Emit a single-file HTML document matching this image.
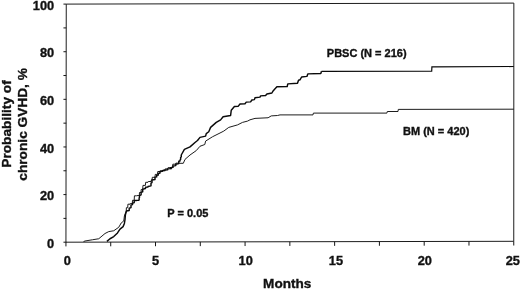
<!DOCTYPE html>
<html><head><meta charset="utf-8"><title>Chronic GVHD</title>
<style>
html,body{margin:0;padding:0;background:#fff;}
svg{display:block;}
#g{filter:blur(0.35px);}
text{font-family:"Liberation Sans",sans-serif;font-weight:bold;fill:#111;stroke:#111;stroke-width:0.35px;}
</style></head>
<body>
<svg width="520" height="290" viewBox="0 0 520 290">
<rect width="520" height="290" fill="#fff"/>
<g id="g">
<polyline points="66.25,4.1 513.85,3.1 513.75,241.3 65.95,242.2 66.25,4.1" fill="none" stroke="#1c1c1c" stroke-width="1.0"/>
<line x1="63.45" y1="242.20" x2="66.25" y2="242.20" stroke="#151515" stroke-width="1"/>
<line x1="63.45" y1="218.39" x2="66.25" y2="218.39" stroke="#151515" stroke-width="1"/>
<line x1="63.45" y1="194.58" x2="66.25" y2="194.58" stroke="#151515" stroke-width="1"/>
<line x1="63.45" y1="170.77" x2="66.25" y2="170.77" stroke="#151515" stroke-width="1"/>
<line x1="63.45" y1="146.96" x2="66.25" y2="146.96" stroke="#151515" stroke-width="1"/>
<line x1="63.45" y1="123.15" x2="66.25" y2="123.15" stroke="#151515" stroke-width="1"/>
<line x1="63.45" y1="99.34" x2="66.25" y2="99.34" stroke="#151515" stroke-width="1"/>
<line x1="63.45" y1="75.53" x2="66.25" y2="75.53" stroke="#151515" stroke-width="1"/>
<line x1="63.45" y1="51.72" x2="66.25" y2="51.72" stroke="#151515" stroke-width="1"/>
<line x1="63.45" y1="27.91" x2="66.25" y2="27.91" stroke="#151515" stroke-width="1"/>
<line x1="63.45" y1="4.10" x2="66.25" y2="4.10" stroke="#151515" stroke-width="1"/>
<line x1="65.95" y1="242.20" x2="65.95" y2="246.40" stroke="#151515" stroke-width="1"/>
<line x1="110.73" y1="242.11" x2="110.73" y2="246.31" stroke="#151515" stroke-width="1"/>
<line x1="155.51" y1="242.02" x2="155.51" y2="246.22" stroke="#151515" stroke-width="1"/>
<line x1="200.29" y1="241.93" x2="200.29" y2="246.13" stroke="#151515" stroke-width="1"/>
<line x1="245.07" y1="241.84" x2="245.07" y2="246.04" stroke="#151515" stroke-width="1"/>
<line x1="289.85" y1="241.75" x2="289.85" y2="245.95" stroke="#151515" stroke-width="1"/>
<line x1="334.63" y1="241.66" x2="334.63" y2="245.86" stroke="#151515" stroke-width="1"/>
<line x1="379.41" y1="241.57" x2="379.41" y2="245.77" stroke="#151515" stroke-width="1"/>
<line x1="424.19" y1="241.48" x2="424.19" y2="245.68" stroke="#151515" stroke-width="1"/>
<line x1="468.97" y1="241.39" x2="468.97" y2="245.59" stroke="#151515" stroke-width="1"/>
<line x1="513.75" y1="241.30" x2="513.75" y2="245.50" stroke="#151515" stroke-width="1"/>
<text x="54.2" y="247.80" text-anchor="end" font-size="12.8">0</text>
<text x="54.2" y="200.18" text-anchor="end" font-size="12.8">20</text>
<text x="54.2" y="152.56" text-anchor="end" font-size="12.8">40</text>
<text x="54.2" y="104.94" text-anchor="end" font-size="12.8">60</text>
<text x="54.2" y="57.32" text-anchor="end" font-size="12.8">80</text>
<text x="54.2" y="9.70" text-anchor="end" font-size="12.8">100</text>
<text x="67.35" y="265.40" text-anchor="middle" font-size="12.8">0</text>
<text x="155.51" y="265.25" text-anchor="middle" font-size="12.8">5</text>
<text x="245.67" y="265.10" text-anchor="middle" font-size="12.8">10</text>
<text x="335.93" y="264.95" text-anchor="middle" font-size="12.8">15</text>
<text x="424.79" y="264.80" text-anchor="middle" font-size="12.8">20</text>
<text x="512.85" y="264.65" text-anchor="middle" font-size="12.8">25</text>
<text x="263.1" y="288.3" font-size="13.3" textLength="48.2" lengthAdjust="spacingAndGlyphs">Months</text>
<text transform="translate(10.7,124) rotate(-90)" text-anchor="middle" font-size="13.7">Probability of</text>
<text transform="translate(27.0,124.4) rotate(-90)" text-anchor="middle" font-size="13.7">chronic GVHD, %</text>
<text x="326.8" y="56.8" font-size="11">PBSC (N = 216)</text>
<text x="403" y="135.2" font-size="11">BM (N = 420)</text>
<text x="167.3" y="217.2" font-size="11">P = 0.05</text>
<polyline points="83.50,241.60 85.00,241.00 92.50,239.75 98.75,238.75 105.00,233.50 108.75,231.60 113.75,230.75 118.75,227.25 121.25,222.90 123.75,221.00 124.40,216.00 126.25,211.00 126.39,207.70 127.70,207.70 127.93,204.20 130.00,204.20 130.23,203.60 132.30,203.60 132.49,200.30 134.20,200.30 134.43,195.80 136.50,195.80 136.78,195.60 139.30,195.60 139.47,192.50 141.00,192.50 141.17,189.50 142.70,189.50 142.97,185.40 145.40,185.40 145.66,182.30 148.00,182.30 148.32,181.50 151.20,181.50 151.28,180.00 152.00,180.00 152.30,177.30 155.00,177.30 155.25,174.40 157.50,174.40 157.75,171.50 160.00,171.50 160.25,170.75 162.50,170.75 162.75,170.00 165.00,170.00 165.27,168.85 167.70,168.85 167.97,167.70 170.40,167.70 170.51,169.00 171.50,169.00 171.60,167.00 172.50,167.00 172.83,164.20 175.80,164.20 175.91,163.10 176.90,163.10 179.40,163.30 183.30,163.30 185.00,159.40 190.00,155.00 196.25,150.60 200.00,146.25 204.80,144.50 205.60,141.10 212.50,136.75 220.00,133.00 223.75,131.10 228.75,127.40 237.50,124.90 242.50,122.40 247.50,121.10 250.00,119.80 255.00,118.40 268.10,117.75 271.25,115.90 277.50,115.50 280.00,114.90 313.00,114.90 313.40,113.10 386.90,113.10 387.30,111.50 398.00,111.50 398.30,109.40 513.75,109.20" fill="none" stroke="#111" stroke-width="0.95" stroke-linejoin="round"/>
<polyline points="106.90,241.40 110.00,238.75 113.75,236.60 117.50,232.90 120.00,229.10 123.10,226.60 124.40,223.50 125.00,219.75 125.40,214.75 126.50,211.00 129.20,210.44 129.20,208.20 131.00,207.56 131.00,205.00 132.50,204.64 132.50,203.20 134.20,202.66 134.20,200.50 136.50,200.47 136.50,200.35 138.80,200.32 138.80,200.20 139.15,199.73 139.15,197.85 139.50,197.38 139.50,195.50 141.10,194.87 141.10,192.35 142.70,191.72 142.70,189.20 144.00,189.12 144.00,188.80 145.50,188.48 145.50,187.20 148.00,187.06 148.00,186.50 151.00,185.84 151.00,183.20 152.00,182.56 152.00,180.00 155.00,179.46 155.00,177.30 156.67,176.91 156.67,175.37 158.33,174.98 158.33,173.43 160.00,173.05 160.00,171.50 162.50,171.35 162.50,170.75 165.00,170.60 165.00,170.00 167.70,169.77 167.70,168.85 170.40,168.62 170.40,167.70 173.10,167.35 173.10,165.95 175.80,165.60 175.80,164.20 178.80,163.60 178.80,161.20 180.00,160.96 180.00,160.00 180.62,159.50 180.62,157.50 181.25,157.00 181.25,155.00 184.40,149.40 190.00,146.90 195.00,142.50 197.50,140.50 200.00,137.40 205.60,136.10 206.25,133.60 208.75,131.75 210.60,127.40 216.25,122.40 220.60,119.90 223.10,116.75 230.60,115.50 231.25,110.25 234.40,106.50 238.10,106.40 240.00,104.00 245.00,103.70 246.25,102.10 250.60,101.90 251.90,100.00 254.40,99.60 255.00,97.75 260.00,97.10 260.60,95.90 265.60,95.50 266.90,94.00 271.90,93.00 273.10,90.90 274.40,89.50 276.90,86.75 287.20,86.50 287.80,83.90 297.50,83.20 298.50,80.20 300.00,79.80 301.60,77.00 306.90,76.40 307.80,73.90 320.80,73.50 321.50,71.30" fill="none" stroke="#0a0a0a" stroke-width="1.45" stroke-linejoin="round"/>
<polyline points="321.50,71.30 431.70,71.25 431.90,66.90 513.75,66.50" fill="none" stroke="#0a0a0a" stroke-width="1.2" stroke-linejoin="miter"/>
</g>
</svg>
</body></html>
